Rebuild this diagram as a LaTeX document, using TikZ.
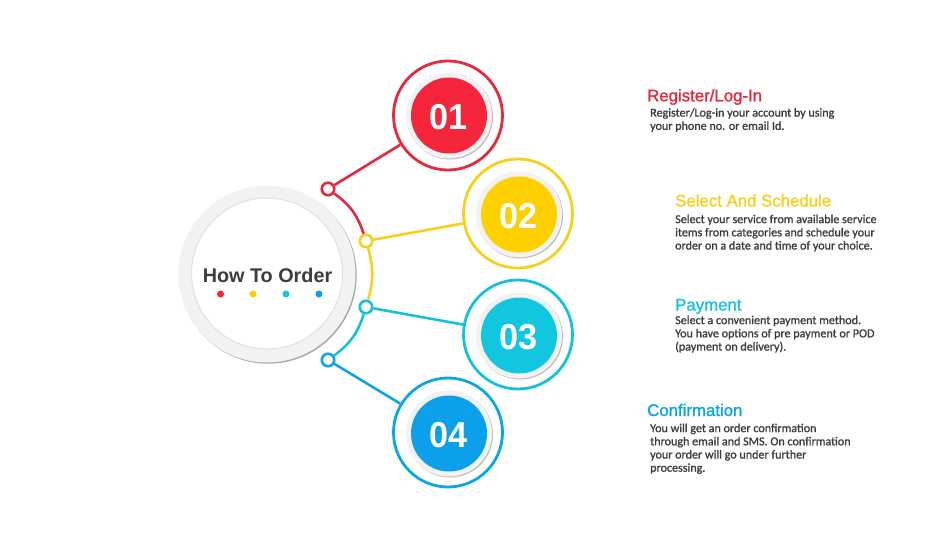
\documentclass[tikz,border=0pt]{standalone}
\usepackage{fontspec}
\setmainfont{Liberation Sans}
\newfontfamily\bodyfont[FakeBold=1.2]{Carlito}
\newfontfamily\headfont[FakeBold=1.4]{Liberation Sans}
\definecolor{cred}{HTML}{E32A3E}
\definecolor{fred}{HTML}{F5263C}
\definecolor{cyel}{HTML}{F6D01E}
\definecolor{fyel}{HTML}{FFD000}
\definecolor{ccya}{HTML}{17C1DC}
\definecolor{fcya}{HTML}{12C6E0}
\definecolor{cblu}{HTML}{0EA5E4}
\definecolor{fblu}{HTML}{0C9FEA}
\definecolor{txt}{HTML}{3C3C3C}
\tikzset{
  ring/.style={circle,draw=#1,line width=2.8pt,fill=white,minimum size=109pt,inner sep=0pt},
  joint/.style={circle,draw=#1,line width=2.6pt,fill=white,minimum size=12.5pt,inner sep=0pt},
  link/.style={draw=#1,line width=2.6pt},
  disc/.style={circle,fill=#1,minimum size=76pt,inner sep=0pt},
  digit/.style={text=white,inner sep=0pt,yshift=-1.8pt,font=\fontsize{36}{36}\selectfont\bfseries},
  dot/.style={circle,fill=#1,minimum size=7pt,inner sep=0pt},
  head/.style={anchor=west,text=#1,inner sep=0pt,font=\headfont\fontsize{16.8}{18}\selectfont},
  para/.style={anchor=north west,align=left,text=txt,inner sep=0pt,font=\bodyfont\fontsize{12.1}{13.2}\selectfont},
}
\begin{document}
\begin{tikzpicture}[x=1pt,y=-1pt]
\useasboundingbox (0,0) rectangle (946,549);
% central badge
\fill[black!34] (268.2,275.2) circle (88.5);
\node[circle,fill=black!5,minimum size=177pt,inner sep=0pt] (hub) at (267,274) {};
\draw[black!12,line width=1pt,fill=white] (267,273.5) circle (75.5);
\fill[white] (267,273.5) circle (74);
\node[font=\fontsize{19.8}{22}\selectfont\bfseries,text=txt,inner sep=0pt] (hubtext) at (267.5,275) {How To Order};
\node[dot=fred] (d1) at (220.5,294) {};
\node[dot=fyel] (d2) at (253,294) {};
\node[dot=fcya] (d3) at (286,294) {};
\node[dot=fblu] (d4) at (319,294) {};
% rings
\node[ring=cred] (r1) at (448,115.5) {};
\node[ring=cyel] (r2) at (518,213.5) {};
\node[ring=ccya] (r3) at (518,334.5) {};
\node[ring=cblu] (r4) at (448,432.5) {};
% joints
\node[joint=cred] (j1) at (328,189) {};
\node[joint=cyel] (j2) at (366,241) {};
\node[joint=ccya] (j3) at (366,307) {};
\node[joint=cblu] (j4) at (328,360) {};
% connectors
\draw[link=cred] (r1) -- (j1);
\draw[link=cyel] (r2) -- (j2);
\draw[link=ccya] (r3) -- (j3);
\draw[link=cblu] (r4) -- (j4);
\draw[link=cred] (j1) to[bend left=18] (j2);
\draw[link=cyel] (j2) to[bend left=16] (j3);
\draw[link=ccya] (j3) to[bend left=18] (j4);
% discs
\foreach \n/\x/\y/\f/\t in {1/449/115.5/fred/01,2/519/214.5/fyel/02,3/519/335.5/fcya/03,4/449/433.5/fblu/04}{
  \fill[black!26] (\x+1,\y+1) circle (43);
  \fill[black!5] (\x,\y) circle (43);
  \node[disc=\f] (c\n) at (\x,\y) {};
  \node[digit] (n\n) at (c\n) {\scalebox{.95}[1]{\t}};
}
% text
\node[head=cred] (t1) at (647,97) {Register/Log-In};
\node[para] (b1) at (650,108) {Register/Log-in your account by using\\your phone no. or email Id.};
\node[head=cyel] (t2) at (675,200.5) {Select And Schedule};
\node[para] (b2) at (675,214.5) {Select your service from available service\\items from categories and schedule your\\order on a date and time of your choice.};
\node[head=ccya] (t3) at (675,306.5) {Payment};
\node[para] (b3) at (675,315.5) {Select a convenient payment method.\\You have options of pre payment or POD\\(payment on delivery).};
\node[head=cblu] (t4) at (647,410) {Confirmation};
\node[para] (b4) at (650,423.5) {You will get an order confirmation\\through email and SMS. On confirmation\\your order will go under further\\processing.};
\end{tikzpicture}
\end{document}
